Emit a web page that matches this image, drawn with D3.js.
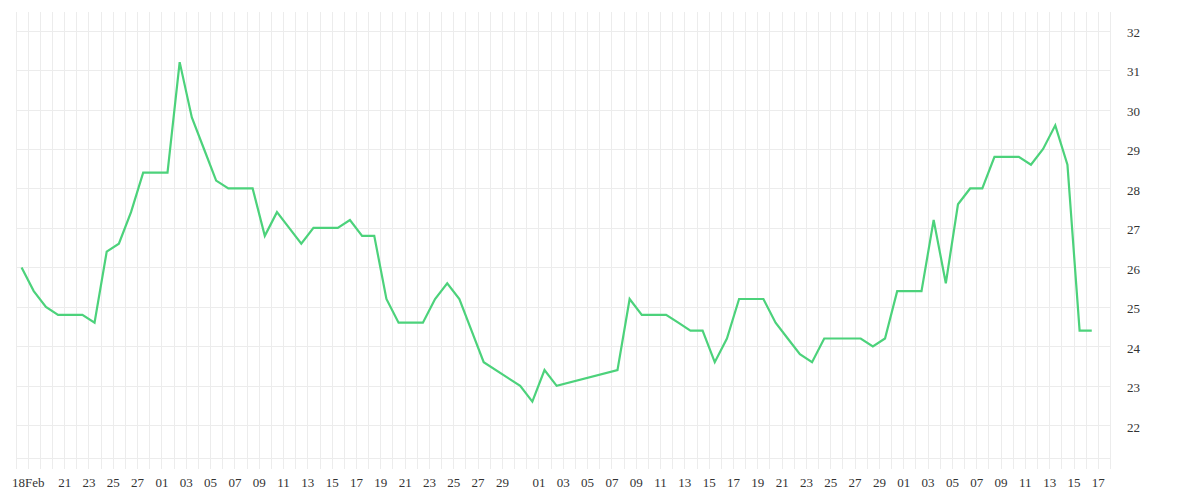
<!DOCTYPE html>
<html lang="en">
<head>
    <script src="https://cdnjs.cloudflare.com/ajax/libs/d3/7.8.5/d3.min.js"></script>
    <style>
        body { margin: 0; background: #fff; }
    </style>
</head>
<body>
<script>
// daily readings (only days that show up as vertices on the line)
var dates = [
    "2023-02-17", "2023-02-18", "2023-02-19", "2023-02-20", "2023-02-21", "2023-02-22", "2023-02-23",
    "2023-02-24", "2023-02-25", "2023-02-26", "2023-02-27", "2023-02-28", "2023-03-01", "2023-03-02",
    "2023-03-03", "2023-03-04", "2023-03-05", "2023-03-06", "2023-03-07", "2023-03-08", "2023-03-09",
    "2023-03-10", "2023-03-11", "2023-03-12", "2023-03-13", "2023-03-14", "2023-03-15", "2023-03-16",
    "2023-03-17", "2023-03-18", "2023-03-19", "2023-03-20", "2023-03-21", "2023-03-22", "2023-03-23",
    "2023-03-24", "2023-03-25", "2023-03-26", "2023-03-27", "2023-03-30", "2023-03-31", "2023-04-01",
    "2023-04-02", "2023-04-07", "2023-04-08", "2023-04-09", "2023-04-10", "2023-04-11", "2023-04-12",
    "2023-04-13", "2023-04-14", "2023-04-15", "2023-04-16", "2023-04-17", "2023-04-18", "2023-04-19",
    "2023-04-20", "2023-04-21", "2023-04-22", "2023-04-23", "2023-04-24", "2023-04-25", "2023-04-26",
    "2023-04-27", "2023-04-28", "2023-04-29", "2023-04-30", "2023-05-01", "2023-05-02", "2023-05-03",
    "2023-05-04", "2023-05-05", "2023-05-06", "2023-05-07", "2023-05-08", "2023-05-09", "2023-05-10",
    "2023-05-11", "2023-05-12", "2023-05-13", "2023-05-14", "2023-05-15", "2023-05-16"
];
var values = [
    26.0, 25.4, 25.0, 24.8, 24.8, 24.8, 24.6,
    26.4, 26.6, 27.4, 28.4, 28.4, 28.4, 31.2,
    29.8, 29.0, 28.2, 28.0, 28.0, 28.0, 26.8,
    27.4, 27.0, 26.6, 27.0, 27.0, 27.0, 27.2,
    26.8, 26.8, 25.2, 24.6, 24.6, 24.6, 25.2,
    25.6, 25.2, 24.4, 23.6, 23.0, 22.6, 23.4,
    23.0, 23.4, 25.2, 24.8, 24.8, 24.8, 24.6,
    24.4, 24.4, 23.6, 24.2, 25.2, 25.2, 25.2,
    24.6, 24.2, 23.8, 23.6, 24.2, 24.2, 24.2,
    24.2, 24.0, 24.2, 25.4, 25.4, 25.4, 27.2,
    25.6, 27.6, 28.0, 28.0, 28.8, 28.8, 28.8,
    28.6, 29.0, 29.6, 28.6, 24.4, 24.4
];

var yTicks = [22, 23, 24, 25, 26, 27, 28, 29, 30, 31, 32];

var xTicks = [
    "2023-02-18", "2023-02-21", "2023-02-23", "2023-02-25", "2023-02-27",
    "2023-03-01", "2023-03-03", "2023-03-05", "2023-03-07", "2023-03-09", "2023-03-11", "2023-03-13",
    "2023-03-15", "2023-03-17", "2023-03-19", "2023-03-21", "2023-03-23", "2023-03-25", "2023-03-27",
    "2023-03-29",
    "2023-04-01", "2023-04-03", "2023-04-05", "2023-04-07", "2023-04-09", "2023-04-11", "2023-04-13",
    "2023-04-15", "2023-04-17", "2023-04-19", "2023-04-21", "2023-04-23", "2023-04-25", "2023-04-27",
    "2023-04-29",
    "2023-05-01", "2023-05-03", "2023-05-05", "2023-05-07", "2023-05-09", "2023-05-11", "2023-05-13",
    "2023-05-15", "2023-05-17"
];

var width = 1200
var height = 500
var left = 15.5
var right = 1110
var top_ = 12
var bottom = 458.5
var gridColor = "#ececec"
var lineColor = "#4cd27b"
var textColor = "#333"
var font = "'Liberation Serif', 'DejaVu Serif', serif"

var parse = d3.timeParse("%Y-%m-%d")

// each reading sits in the middle of its day
var points = dates.map((d, i) => ({date: d3.timeHour.offset(parse(d), 12), value: values[i]}))

var x = d3.scaleTime()
    .domain([parse("2023-02-17"), parse("2023-05-18")])
    .range([left, right])

var y = d3.scaleLinear()
    .domain([21.16, 32.47])
    .range([bottom, top_])

var svg = d3.select("body").append("svg")
    .attr("width", width)
    .attr("height", height)
    .attr("font-family", font)
    .attr("font-size", 13)

svg.append("rect").attr("width", width).attr("height", height).attr("fill", "#fff")

// vertical grid, one line per day, running down a bit past the bottom edge as tick marks
var days = d3.timeDay.range(x.domain()[0], d3.timeDay.offset(x.domain()[1], 1))
svg.append("g").attr("class", "vgrid")
    .attr("stroke", gridColor)
    .attr("shape-rendering", "crispEdges")
    .selectAll("line")
    .data(days)
    .join("line")
    .attr("x1", d => Math.round(x(d)) + 0.5)
    .attr("x2", d => Math.round(x(d)) + 0.5)
    .attr("y1", top_)
    .attr("y2", bottom + 10)

// horizontal grid
svg.append("g").attr("class", "hgrid")
    .attr("stroke", gridColor)
    .attr("shape-rendering", "crispEdges")
    .selectAll("line")
    .data(yTicks)
    .join("line")
    .attr("x1", left)
    .attr("x2", right)
    .attr("y1", d => Math.round(y(d)) + 0.5)
    .attr("y2", d => Math.round(y(d)) + 0.5)

// bottom edge
svg.append("line")
    .attr("stroke", gridColor)
    .attr("shape-rendering", "crispEdges")
    .attr("x1", left).attr("x2", right)
    .attr("y1", bottom).attr("y2", bottom)

// right axis labels
var yAxis = d3.axisRight(y).tickValues(yTicks).tickSize(0).tickPadding(0).tickFormat(d3.format("d"))
svg.append("g")
    .attr("transform", `translate(${right + 17},1.5)`)
    .call(yAxis)
    .call(g => g.select(".domain").remove())
    .call(g => g.selectAll("text").attr("fill", textColor).attr("font-family", font).attr("font-size", 13))

// bottom axis labels
var dayFmt = d3.timeFormat("%d")
var xAxis = d3.axisBottom(x)
    .tickValues(xTicks.map(parse))
    .tickSize(0)
    .tickPadding(0)
    .tickFormat((d, i) => i === 0 ? dayFmt(d) + d3.timeFormat("%b")(d) : dayFmt(d))
svg.append("g")
    .attr("transform", `translate(0,${bottom + 19})`)
    .call(xAxis)
    .call(g => g.select(".domain").remove())
    .call(g => g.selectAll("text").attr("fill", textColor).attr("font-family", font).attr("font-size", 13))

// the series
svg.append("path")
    .datum(points)
    .attr("fill", "none")
    .attr("stroke", lineColor)
    .attr("stroke-width", 2.2)
    .attr("stroke-linejoin", "miter")
    .attr("d", d3.line().x(d => x(d.date)).y(d => y(d.value)))
</script>
</body>
</html>
